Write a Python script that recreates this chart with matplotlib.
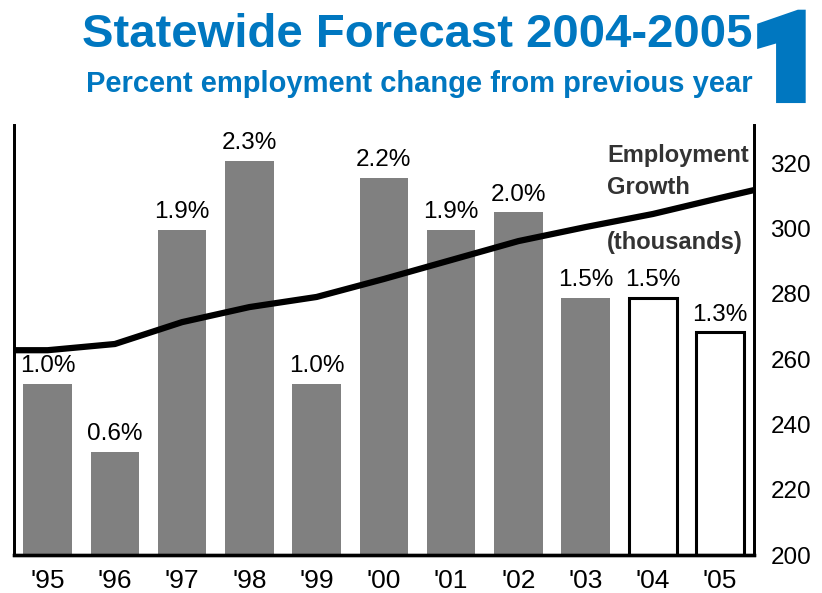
import numpy as np
import matplotlib.pyplot as plt
import matplotlib.patheffects as pe

plt.rcParams['font.family'] = ['Liberation Sans', 'DejaVu Sans']

# Datos
anios = ["'95", "'96", "'97", "'98", "'99", "'00", "'01", "'02", "'03", "'04", "'05"]
pct_cambio = [1.0, 0.6, 1.9, 2.3, 1.0, 2.2, 1.9, 2.0, 1.5, 1.5, 1.3]
pronostico = [False] * 9 + [True] * 2

# Empleo (miles) en los centros de cada año, más los extremos del eje
empleo_x = [-0.5, 0, 1, 2, 3, 4, 5, 6, 7, 8, 9, 10, 10.5]
empleo = [262.7, 262.7, 264.6, 271.3, 275.9, 279.0, 284.5, 290.3, 296.1, 300.4, 304.4, 309.3, 311.7]

azul = '#0077c0'
gris = '#808080'

fig = plt.figure(figsize=(8.22, 5.93), dpi=100)
ax = fig.add_axes([0.017, 0.064, 0.9, 0.725])

x = np.arange(len(anios))
for xi, v, fut in zip(x, pct_cambio, pronostico):
    if fut:
        ax.bar(xi, v, width=0.72, facecolor='white', edgecolor='black', linewidth=2.2, zorder=2)
    else:
        ax.bar(xi, v, width=0.72, color=gris, zorder=2)
    ax.text(xi, v + 0.04, f'{v:.1f}%', ha='center', va='bottom', fontsize=17.5, zorder=4)

ax.set_xlim(-0.5, 10.5)
ax.set_ylim(0, 2.51)
ax.set_yticks([])
ax.set_xticks(x)
ax.set_xticklabels(anios, fontsize=19)
ax.tick_params(axis='x', length=0, pad=10)
ax.spines['top'].set_visible(False)
for s in ['left', 'right']:
    ax.spines[s].set_linewidth(2)
ax.spines['bottom'].set_linewidth(2.4)

ax2 = ax.twinx()
ax2.plot(empleo_x, empleo, color='black', linewidth=4.5, solid_capstyle='butt', zorder=5)
ax2.set_ylim(200, 331.6)
ax2.set_yticks([200, 220, 240, 260, 280, 300, 320])
ax2.tick_params(axis='y', length=0, labelsize=17.5, pad=12)
ax2.spines['top'].set_visible(False)
for s in ['left', 'right']:
    ax2.spines[s].set_linewidth(2)
ax2.spines['bottom'].set_linewidth(2.4)
ax2.set_xlim(-0.5, 10.5)

ax.text(0.802, 0.955, 'Employment\nGrowth', transform=ax.transAxes, ha='left', va='top',
        fontsize=17, fontweight='bold', color='#333333', linespacing=1.45)
ax.text(0.802, 0.728, '(thousands)', transform=ax.transAxes, ha='left', va='center',
        fontsize=17, fontweight='bold', color='#333333')

fig.text(0.915, 0.921, 'Statewide Forecast 2004-2005', ha='right', va='baseline',
         fontsize=34, fontweight='bold', color=azul)
fig.text(0.915, 0.845, 'Percent employment change from previous year', ha='right', va='baseline',
         fontsize=21, fontweight='bold', color=azul)
fig.text(0.998, 0.835, '1', ha='right', va='baseline', fontsize=84, fontweight='black',
         family='Roboto', color=azul,
         path_effects=[pe.withStroke(linewidth=7.5, foreground=azul, joinstyle='miter')])

fig.savefig('out.png', dpi=100)
